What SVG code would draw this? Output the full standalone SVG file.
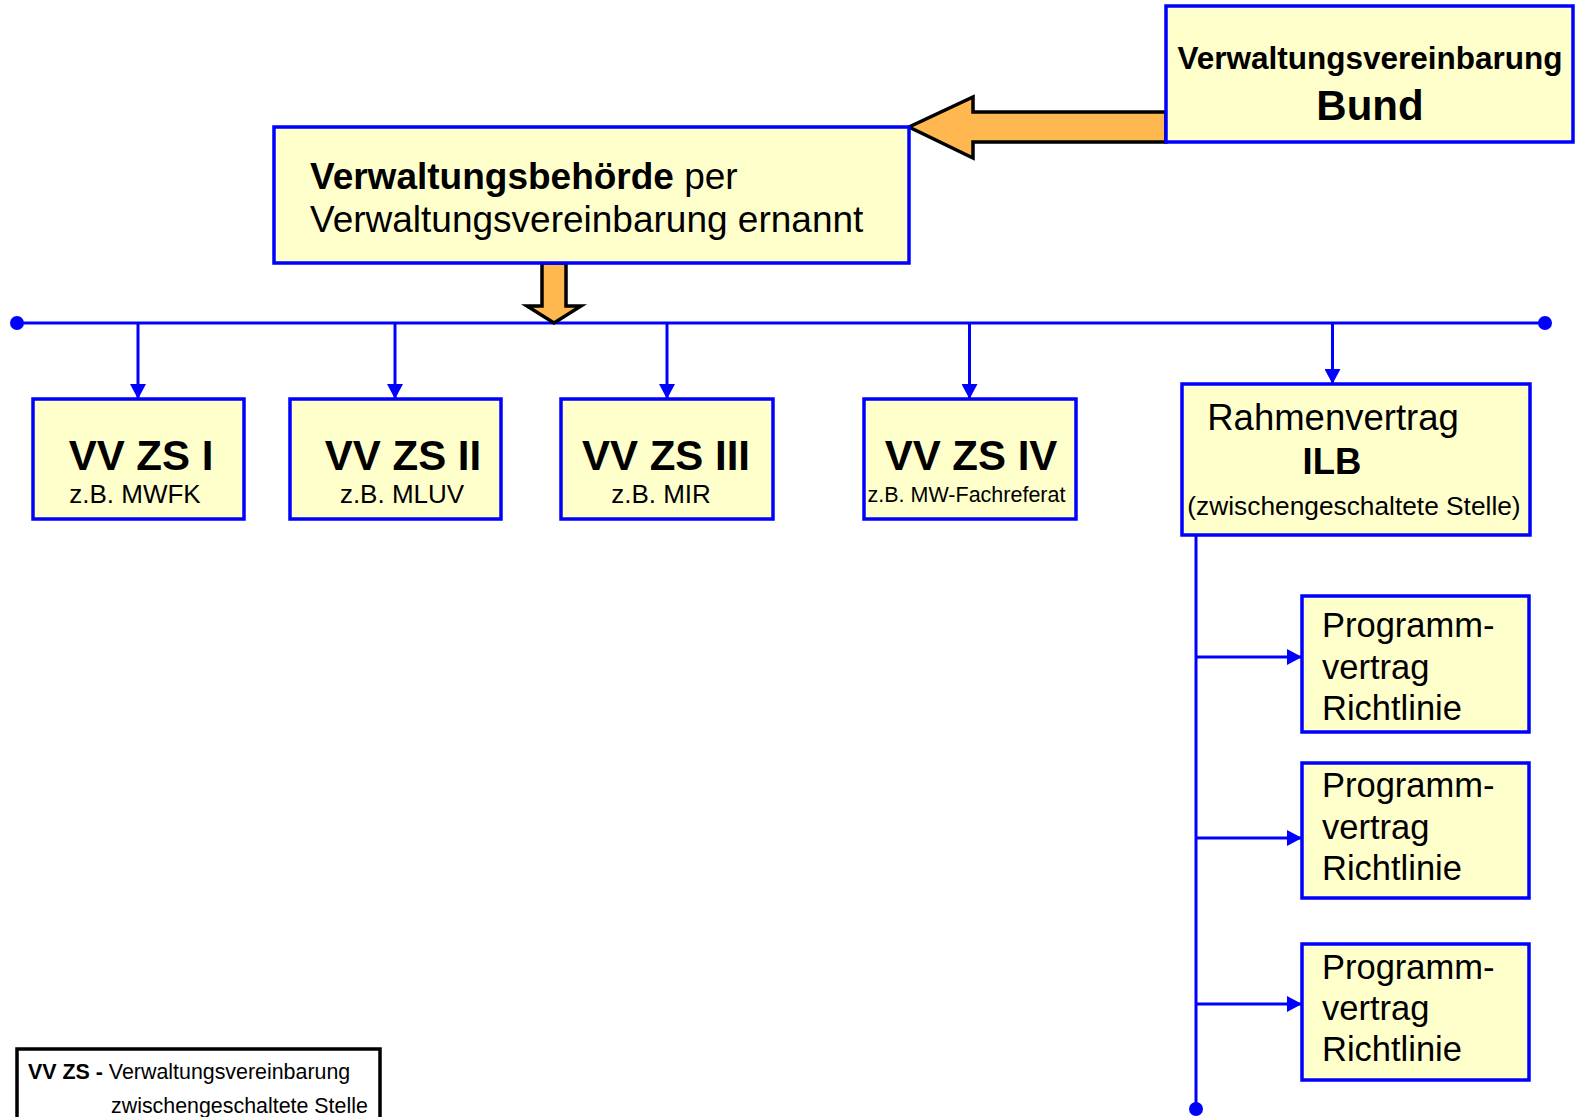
<svg xmlns="http://www.w3.org/2000/svg" width="1577" height="1117" viewBox="0 0 1577 1117">
<style>
.box{fill:#FFFFCC;stroke:#0000FF;stroke-width:3.5}
.conn{stroke:#0000FF;stroke-width:3;fill:none}
.big{stroke:#000;stroke-width:3.5;fill:#FFB84F;stroke-linejoin:miter}
text{font-family:"Liberation Sans",Arial,sans-serif;fill:#000}
.b{font-weight:bold}
.m{text-anchor:middle}
</style>
<defs>
<marker id="ah" markerUnits="userSpaceOnUse" markerWidth="16" markerHeight="16" refX="15" refY="8" orient="auto">
<path d="M0,0 L15,8 L0,16 Z" fill="#0000FF"/>
</marker>
</defs>
<rect width="1577" height="1117" fill="#FFFFFF"/>

<g id="connectors">
<line class="conn" x1="17" y1="323" x2="1545" y2="323"/>
<circle cx="17" cy="323" r="7" fill="#0000FF"/>
<circle cx="1545" cy="323" r="7" fill="#0000FF"/>
<line class="conn" x1="138" y1="323" x2="138" y2="399" marker-end="url(#ah)"/>
<line class="conn" x1="395" y1="323" x2="395" y2="399" marker-end="url(#ah)"/>
<line class="conn" x1="667" y1="323" x2="667" y2="399" marker-end="url(#ah)"/>
<line class="conn" x1="969.5" y1="323" x2="969.5" y2="399" marker-end="url(#ah)"/>
<line class="conn" x1="1332.5" y1="323" x2="1332.5" y2="384" marker-end="url(#ah)"/>
<line class="conn" x1="1196" y1="535" x2="1196" y2="1109"/>
<circle cx="1196" cy="1109" r="7" fill="#0000FF"/>
<line class="conn" x1="1196" y1="657" x2="1302" y2="657" marker-end="url(#ah)"/>
<line class="conn" x1="1196" y1="838" x2="1302" y2="838" marker-end="url(#ah)"/>
<line class="conn" x1="1196" y1="1004" x2="1302" y2="1004" marker-end="url(#ah)"/>
<path class="big" d="M1166,112 L973,112 L973,97 L909,127 L973,158 L973,142 L1166,142 Z"/>
<path class="big" d="M542,263 L566,263 L566,306 L581,306 L554,323 L527,306 L542,306 Z"/>
</g>

<g id="bund">
<rect class="box" x="1166" y="6" width="407" height="136"/>
<text class="b m" x="1370" y="69" font-size="31.5">Verwaltungsvereinbarung</text>
<text class="b m" x="1370" y="120" font-size="42">Bund</text>
</g>

<g id="verwaltungsbehoerde">
<rect class="box" x="274" y="127" width="635" height="136"/>
<text x="310" y="189" font-size="37"><tspan class="b">Verwaltungsbehörde</tspan> per</text>
<text x="310" y="232" font-size="37">Verwaltungsvereinbarung ernannt</text>
</g>

<g id="vvzs1">
<rect class="box" x="33" y="399" width="211" height="120"/>
<text class="b m" x="141" y="470" font-size="42">VV ZS I</text>
<text class="m" x="135" y="503" font-size="26">z.B. MWFK</text>
</g>

<g id="vvzs2">
<rect class="box" x="290" y="399" width="211" height="120"/>
<text class="b m" x="403" y="470" font-size="42">VV ZS II</text>
<text class="m" x="402" y="503" font-size="26">z.B. MLUV</text>
</g>

<g id="vvzs3">
<rect class="box" x="561" y="399" width="212" height="120"/>
<text class="b m" x="666" y="470" font-size="42">VV ZS III</text>
<text class="m" x="661" y="503" font-size="26">z.B. MIR</text>
</g>

<g id="vvzs4">
<rect class="box" x="864" y="399" width="212" height="120"/>
<text class="b m" x="971" y="470" font-size="42">VV ZS IV</text>
<text class="m" x="966.5" y="502" font-size="21.5">z.B. MW-Fachreferat</text>
</g>

<g id="rahmenvertrag">
<rect class="box" x="1182" y="384" width="348" height="151"/>
<text class="m" x="1333" y="430" font-size="36.5">Rahmenvertrag</text>
<text class="b m" x="1332" y="474" font-size="36.5">ILB</text>
<text class="m" x="1354" y="515" font-size="26.3">(zwischengeschaltete Stelle)</text>
</g>

<g id="programm1">
<rect class="box" x="1302" y="596" width="227" height="136"/>
<text x="1322" y="637" font-size="34.5">Programm-</text>
<text x="1322" y="679" font-size="34.5">vertrag</text>
<text x="1322" y="720" font-size="34.5">Richtlinie</text>
</g>

<g id="programm2">
<rect class="box" x="1302" y="763" width="227" height="135"/>
<text x="1322" y="797" font-size="34.5">Programm-</text>
<text x="1322" y="839" font-size="34.5">vertrag</text>
<text x="1322" y="880" font-size="34.5">Richtlinie</text>
</g>

<g id="programm3">
<rect class="box" x="1302" y="944" width="227" height="136"/>
<text x="1322" y="979" font-size="34.5">Programm-</text>
<text x="1322" y="1020" font-size="34.5">vertrag</text>
<text x="1322" y="1061" font-size="34.5">Richtlinie</text>
</g>

<g id="legende">
<rect x="17" y="1049" width="363" height="80" fill="#FFFFFF" stroke="#000" stroke-width="3.5"/>
<text x="28" y="1079" font-size="21.4"><tspan class="b">VV ZS -</tspan> Verwaltungsvereinbarung</text>
<text x="111" y="1113" font-size="21.4">zwischengeschaltete Stelle</text>
</g>
</svg>
